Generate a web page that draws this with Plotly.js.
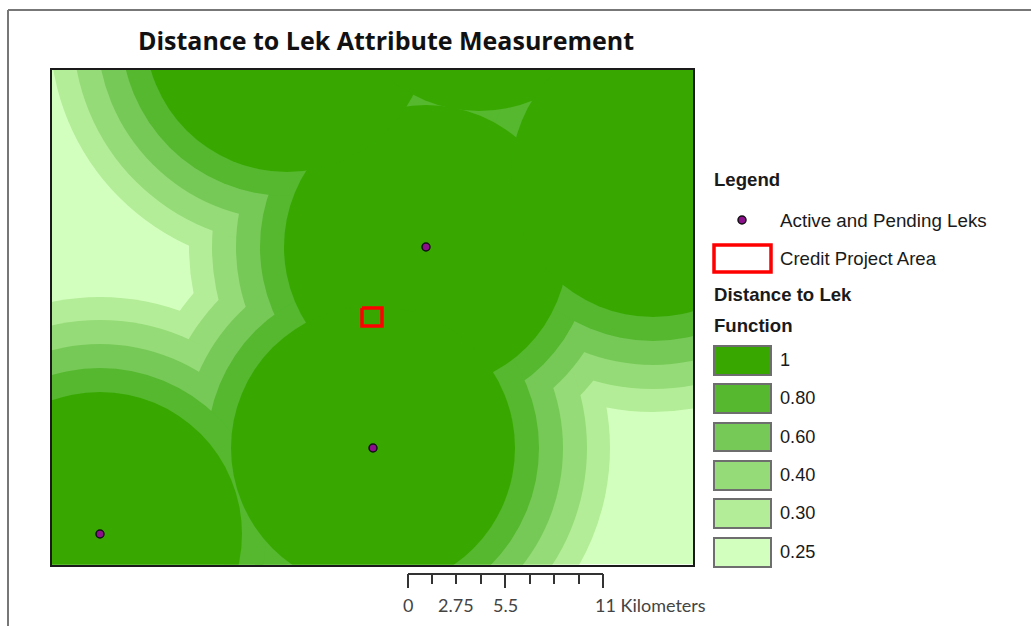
<!DOCTYPE html>
<html>
<head>
<meta charset="utf-8">
<script src="https://cdn.plot.ly/plotly-3.0.1.min.js"></script>
<style>html,body{margin:0;padding:0;background:#fff}#map{width:1031px;height:626px}</style>
</head>
<body>
<div id="map"></div>
<script>
// Map units are the reference picture's own pixel grid.
const mapXRange = [52, 693];
const mapYRange = [564.5, 69.5];

// Leks visible on the map
const lekX = [426, 373, 100];
const lekY = [247, 448, 534];
// Leks just outside the frame whose zones reach into it
const offMapLekX = [287, 479, 653];
const offMapLekY = [30, -31, 175];

// Distance zones: outer radius of each zone around a lek
const zoneValues = ['1', '0.80', '0.60', '0.40', '0.30', '0.25'];
const zoneColors = ['#38a800', '#55b82f', '#76c957', '#95db77', '#b3ed98', '#d3ffbe'];
const zoneRadii = [142, 166, 190, 214, 237];

// Credit project area outline
const projectX = [362, 382, 382, 362, 362];
const projectY = [308, 308, 326, 326, 308];

// Legend rows
const swatchTop = [346, 384, 423, 461, 499, 538];
const swatchBottom = [375, 413, 451, 490, 528, 567];

// Scale bar
const scaleTickX = [408, 432, 456, 481, 505, 530, 554, 579, 603];
const scaleTickEnd = [588, 584, 584, 584, 588, 584, 584, 584, 588];
const scaleLabels = ['0', '2.75', '5.5', '11 Kilometers'];
const scaleLabelX = [408, 456, 505, 593];

const allX = lekX.concat(offMapLekX), allY = lekY.concat(offMapLekY);
const shapes = [];
// base zone covering the whole frame
shapes.push({type:'rect', xref:'x', yref:'y', layer:'below', x0:mapXRange[0], x1:mapXRange[1], y0:mapYRange[0], y1:mapYRange[1], fillcolor:zoneColors[5], line:{width:0}});
for (let z = zoneRadii.length - 1; z >= 0; z--) {
  allX.forEach((cx, i) => {
    shapes.push({type:'circle', xref:'x', yref:'y', layer:'below',
      x0:cx - zoneRadii[z], x1:cx + zoneRadii[z], y0:allY[i] - zoneRadii[z], y1:allY[i] + zoneRadii[z],
      fillcolor:zoneColors[z], line:{width:0}});
  });
}
// page frame
shapes.push({type:'line', xref:'x2', yref:'y2', x0:8, x1:8, y0:10, y1:626, line:{color:'#777777', width:2}});
shapes.push({type:'line', xref:'x2', yref:'y2', x0:8, x1:1031, y0:10, y1:10, line:{color:'#777777', width:2}});
// legend swatches
zoneValues.forEach((v, i) => {
  shapes.push({type:'rect', xref:'x2', yref:'y2', x0:714, x1:771, y0:swatchTop[i], y1:swatchBottom[i], fillcolor:zoneColors[i], line:{color:'#6e6e6e', width:2}});
});
shapes.push({type:'rect', xref:'x2', yref:'y2', x0:714, x1:771, y0:245, y1:272, fillcolor:'#ffffff', line:{color:'#ff0000', width:3.5}});

const arial = 'Liberation Sans, Arial, sans-serif';
const ann = (text, x, y, size, opts) => Object.assign({text:text, x:x, y:y, xref:'x2', yref:'y2', xanchor:'left', yanchor:'middle', showarrow:false,
  font:{family:arial, size:size, color:'#1a1a1a'}}, opts || {});
const annotations = [
  ann('<b>Legend</b>', 712, 179, 18.6),
  ann('Active and Pending Leks', 778, 220.5, 18.8),
  ann('Credit Project Area', 778, 258.5, 18.6),
  ann('<b>Distance to Lek</b>', 712, 294, 18.6),
  ann('<b>Function</b>', 712, 325, 18.6)
];
zoneValues.forEach((v, i) => annotations.push(ann(v, 778, (swatchTop[i] + swatchBottom[i]) / 2 - 0.5, 18.2)));
scaleLabels.forEach((t, i) => annotations.push(ann(t, scaleLabelX[i], 604.5, 18, {
  xanchor: i === 3 ? 'left' : 'center', font:{family:'Lato, sans-serif', size:18, color:'#444444'}})));

const scaleLineX = [scaleTickX[0], scaleTickX[8], null];
const scaleLineY = [574, 574, null];
scaleTickX.forEach((x, i) => { scaleLineX.push(x, x, null); scaleLineY.push(574, scaleTickEnd[i], null); });

const traces = [
  {type:'scatter', mode:'lines', x:projectX, y:projectY, xaxis:'x', yaxis:'y', showlegend:false, hoverinfo:'skip', line:{color:'#ff0000', width:3.5}},
  {type:'scatter', mode:'markers', x:lekX, y:lekY, xaxis:'x', yaxis:'y', showlegend:false, name:'Active and Pending Leks',
    marker:{size:8, color:'#8c0f8c', line:{color:'#111111', width:1.5}}},
  {type:'scatter', mode:'markers', x:[742], y:[220], xaxis:'x2', yaxis:'y2', showlegend:false, hoverinfo:'skip',
    marker:{size:8, color:'#8c0f8c', line:{color:'#111111', width:1.5}}},
  {type:'scatter', mode:'lines', x:scaleLineX, y:scaleLineY, xaxis:'x2', yaxis:'y2', showlegend:false, hoverinfo:'skip', line:{color:'#333333', width:2}}
];

const layout = {
  width:1031, height:626, margin:{l:0,r:0,t:0,b:0},
  paper_bgcolor:'#ffffff', plot_bgcolor:'rgba(0,0,0,0)', showlegend:false,
  title:{text:'<b>Distance to Lek Attribute Measurement</b>', x:386/1031, y:1-41/626, xanchor:'center', yanchor:'middle', xref:'paper', yref:'paper',
    font:{family:'Open Sans, sans-serif', size:25, color:'#111111'}},
  xaxis:{domain:[mapXRange[0]/1031, mapXRange[1]/1031], range:mapXRange, showgrid:false, zeroline:false, showticklabels:false, ticks:'', showline:true, mirror:true, linecolor:'#1a1a1a', linewidth:2, anchor:'y'},
  yaxis:{domain:[1-mapYRange[0]/626, 1-mapYRange[1]/626], range:mapYRange, showgrid:false, zeroline:false, showticklabels:false, ticks:'', showline:true, mirror:true, linecolor:'#1a1a1a', linewidth:2, anchor:'x'},
  xaxis2:{domain:[0,1], range:[0,1031], visible:false, anchor:'y2'},
  yaxis2:{domain:[0,1], range:[626,0], visible:false, anchor:'x2'},
  shapes:shapes, annotations:annotations
};
Plotly.newPlot('map', traces, layout, {displayModeBar:false, staticPlot:true});
</script>
</body>
</html>
